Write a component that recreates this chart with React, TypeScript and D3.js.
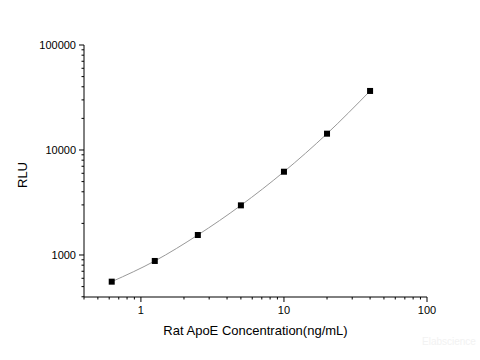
import React from "react";
import * as d3 from "d3";

const concentrations = [0.625, 1.25, 2.5, 5, 10, 20, 40];
const rluValues = [557, 877, 1550, 2970, 6210, 14300, 36500];
const xTickValues = [1, 10, 100];
const yTickValues = [1000, 10000, 100000];
const xTitle = "Rat ApoE Concentration(ng/mL)";
const yTitle = "RLU";

const W = 480, H = 360;
const left = 84, right = 427, top = 45, bottom = 297;

export default function App() {
  const x = d3.scaleLog().domain([0.4, 100]).range([left, right]);
  const y = d3.scaleLog().domain([398, 100000]).range([bottom, top]);

  const xMinor: number[] = [];
  for (let d = 0.1; d < 100; d *= 10) {
    for (let k = 2; k <= 9; k++) {
      const v = d * k;
      if (v >= 0.4 && v <= 100) xMinor.push(v);
    }
  }
  const yMinor: number[] = [];
  for (let d = 100; d < 100000; d *= 10) {
    for (let k = 2; k <= 9; k++) {
      const v = d * k;
      if (v >= 398 && v <= 100000) yMinor.push(v);
    }
  }

  const pts: [number, number][] = concentrations.map((c, i) => [x(c), y(rluValues[i])]);
  const line = d3.line().curve(d3.curveMonotoneX)(pts) || "";

  const font = "'Liberation Sans', Arial, sans-serif";

  return (
    <svg width={W} height={H} style={{ position: "absolute", left: 0, top: 0, background: "#fff" }} fontFamily={font}>
      <rect width={W} height={H} fill="#fff" />
      <line x1={left} y1={top} x2={left} y2={bottom} stroke="#000" strokeWidth={1} />
      <line x1={left} y1={bottom} x2={right} y2={bottom} stroke="#000" strokeWidth={1} />
      {yTickValues.map((v) => (
        <g key={"yt" + v}>
          <line x1={left - 5} x2={left} y1={y(v)} y2={y(v)} stroke="#000" />
          <text x={left - 8} y={y(v)} dy="0.35em" textAnchor="end" fontSize={11} fill="#000">{v}</text>
        </g>
      ))}
      {yMinor.map((v) => (
        <line key={"ym" + v} x1={left - 2.5} x2={left} y1={y(v)} y2={y(v)} stroke="#000" />
      ))}
      {xTickValues.map((v) => (
        <g key={"xt" + v}>
          <line x1={x(v)} x2={x(v)} y1={bottom} y2={bottom + 5} stroke="#000" />
          <text x={x(v)} y={bottom + 17} textAnchor="middle" fontSize={11} fill="#000">{v}</text>
        </g>
      ))}
      {xMinor.map((v) => (
        <line key={"xm" + v} x1={x(v)} x2={x(v)} y1={bottom} y2={bottom + 2.5} stroke="#000" />
      ))}
      <text x={(left + right) / 2} y={335} textAnchor="middle" fontSize={13} fill="#000">{xTitle}</text>
      <text transform={`translate(27,175) rotate(-90)`} textAnchor="middle" fontSize={13} fill="#000">{yTitle}</text>
      <path d={line} fill="none" stroke="#999" strokeWidth={1} />
      {pts.map(([px, py], i) => (
        <rect key={"p" + i} x={px - 3} y={py - 3} width={6} height={6} fill="#000" />
      ))}
      <text x={422} y={345} fontSize={10} fill="#f2f2f2">Elabscience</text>
    </svg>
  );
}
